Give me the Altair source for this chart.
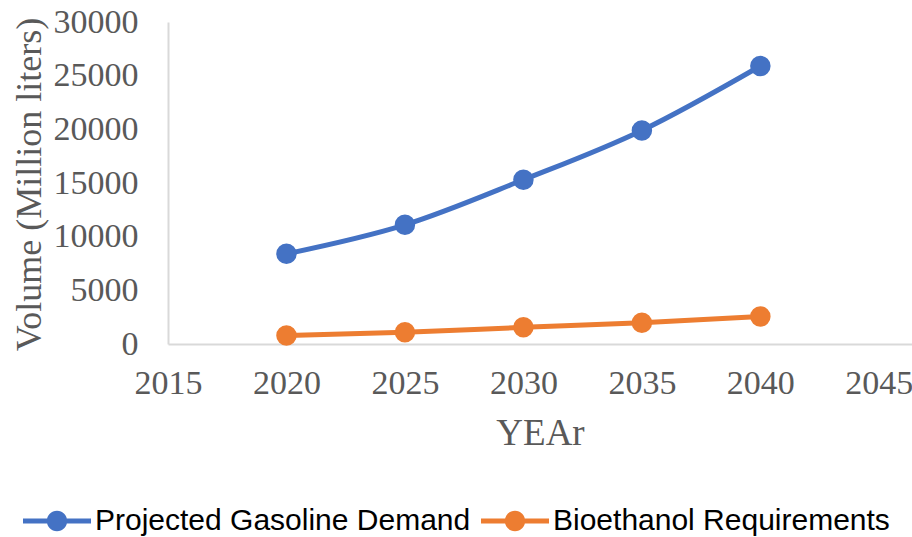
import altair as alt
import pandas as pd

years = [2020, 2025, 2030, 2035, 2040]
gasoline = [8400, 11100, 15300, 19900, 25900]
bioethanol = [800, 1100, 1550, 1990, 2570]
series_names = ["Projected Gasoline Demand", "Bioethanol Requirements"]
series_colors = ["#4472C4", "#ED7D31"]
x_ticks = [2015, 2020, 2025, 2030, 2035, 2040, 2045]
y_ticks = [0, 5000, 10000, 15000, 20000, 25000, 30000]

rows = []
for y, g in zip(years, gasoline):
    rows.append({"Year": y, "Volume": g, "Series": series_names[0]})
for y, b in zip(years, bioethanol):
    rows.append({"Year": y, "Volume": b, "Series": series_names[1]})
df = pd.DataFrame(rows)

TEXT = "#595959"
SERIF = "Liberation Serif"

sym = ("M-1,-0.07 L-0.29,-0.07 L-0.29,0.07 L-1,0.07 Z "
       "M0.29,-0.07 L1,-0.07 L1,0.07 L0.29,0.07 Z "
       "M0.3,0 A0.3,0.3 0 1,1 -0.3,0 A0.3,0.3 0 1,1 0.3,0 Z")

x_enc = alt.X("Year:Q",
              scale=alt.Scale(domain=[2015, 2046.4], nice=False, zero=False),
              axis=alt.Axis(values=x_ticks, format="d", title="YEAr", grid=False,
                            ticks=False, domainColor="#D9D9D9", domainWidth=2,
                            labelFont=SERIF, labelFontSize=34, labelColor=TEXT,
                            labelPadding=22, labelFlush=False,
                            titleFont=SERIF, titleFontSize=37, titleColor=TEXT,
                            titleFontWeight="normal", titleY=89,
                            titleBaseline="middle"))
y_enc = alt.Y("Volume:Q",
              scale=alt.Scale(domain=[0, 30000], nice=False),
              axis=alt.Axis(values=y_ticks, format="d",
                            title="Volume (Million liters)", grid=False,
                            ticks=False, domainColor="#D9D9D9", domainWidth=2,
                            labelFont=SERIF, labelFontSize=34, labelColor=TEXT,
                            labelPadding=30,
                            titleFont=SERIF, titleFontSize=36, titleColor=TEXT,
                            titleFontWeight="normal", titleAngle=270,
                            titleX=-139, titleY=162, titleAlign="center",
                            titleBaseline="middle"))
color_scale = alt.Scale(domain=series_names, range=series_colors)

legend = alt.Legend(title=None, orient="none", direction="horizontal",
                    legendX=-145, legendY=465,
                    symbolType=sym, symbolSize=4624,
                    symbolStrokeWidth=0, symbolOpacity=1,
                    labelFont="Liberation Sans", labelFontSize=30,
                    labelColor="#000000", labelOffset=4,
                    columnPadding=10, labelLimit=500)

line = alt.Chart(df).mark_line(strokeWidth=5, interpolate="monotone").encode(
    x=x_enc, y=y_enc,
    color=alt.Color("Series:N", scale=color_scale, sort=series_names, legend=legend),
)
points = alt.Chart(df).mark_point(filled=True, size=420, opacity=1).encode(
    x=x_enc, y=y_enc,
    color=alt.Color("Series:N", scale=color_scale, sort=series_names, legend=legend),
)

chart = (line + points).properties(
    width=744, height=322,
    autosize=alt.AutoSizeParams(type="none"),
    padding={"left": 168, "top": 22, "right": 0, "bottom": 193},
    background="white",
).configure_view(stroke=None)

chart.save("out.html", embed_options={"renderer": "svg", "actions": False})
